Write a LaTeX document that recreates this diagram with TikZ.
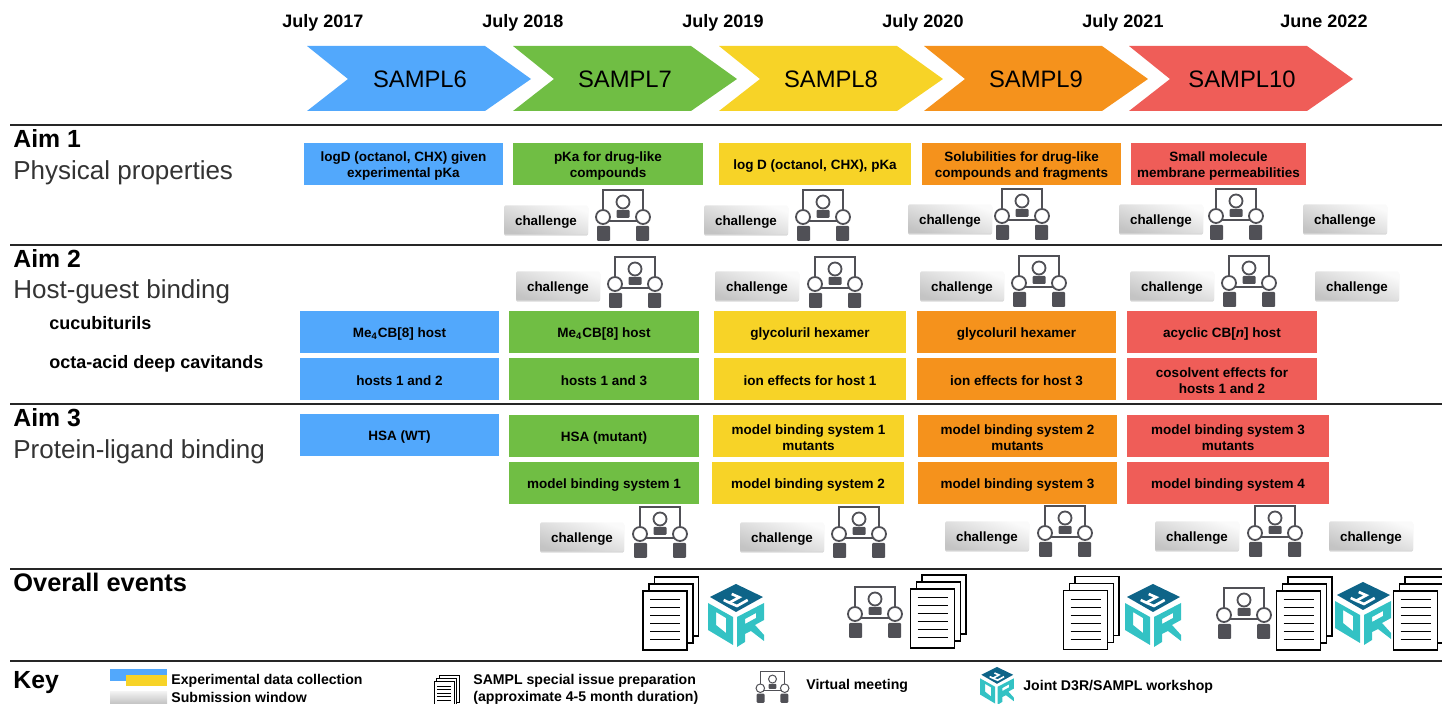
\documentclass[tikz,border=0pt]{standalone}
\usepackage{fontspec}
\setmainfont{Liberation Sans}
\usetikzlibrary{shadows}
\definecolor{sblue}{HTML}{52A8FC}
\definecolor{sgreen}{HTML}{70BE44}
\definecolor{syellow}{HTML}{F7D327}
\definecolor{sorange}{HTML}{F5921C}
\definecolor{sred}{HTML}{EF5D58}
\definecolor{icongray}{HTML}{505056}
\definecolor{d3rblue}{HTML}{0E6488}
\definecolor{d3rteal}{HTML}{33C2C4}
\tikzset{
  tbox/.style 2 args={fill=#1,minimum width=#2*0.5pt,minimum height=21pt,inner sep=0pt,align=center,font=\fontsize{6.75}{8}\selectfont\bfseries,execute at begin node={\rule{0pt}{6.8pt}}},
  twolines/.style={execute at begin node={\rule{0pt}{14.5pt}}},
  challenge/.style={minimum width=42pt,minimum height=14.5pt,inner sep=0pt,rounded corners=0.7pt,top color=gray!4,bottom color=gray!46,shading angle=-20,drop shadow={shadow xshift=0pt,shadow yshift=-0.6pt,opacity=.3},font=\fontsize{6.7}{8}\selectfont\bfseries,execute at begin node={\rule{0pt}{6.8pt}}},
  iconline/.style={line width=0.9pt},
  pageline/.style={line width=0.7pt},
  pagetext/.style={line width=0.5pt},
  logoline/.style={line width=1.3pt},
  rule/.style={line width=0.9pt,black!85},
  aim/.style={anchor=base west,inner sep=0pt,font=\fontsize{12.4}{14}\selectfont\bfseries},
  aimsub/.style={anchor=base west,inner sep=0pt,text=black!80,font=\fontsize{13}{15}\selectfont},
  host/.style={anchor=base west,inner sep=0pt,font=\fontsize{9}{11}\selectfont\bfseries},
  date/.style={anchor=base,inner sep=0pt,font=\fontsize{9}{11}\selectfont\bfseries},
  round/.style={inner sep=0pt,font=\fontsize{11.9}{14}\selectfont},
  keytext/.style={anchor=base west,inner sep=0pt,font=\fontsize{7.05}{8.5}\selectfont\bfseries},
  pics/meeting/.style={code={
    \draw[iconline,icongray] (-20,2) -- (-20,-25) -- (20,-25) -- (20,2);
    \draw[iconline,icongray] (-14,6) -- (14,6);
    \draw[iconline,icongray,fill=white] (-20,2) circle (7);
    \draw[iconline,icongray,fill=white] (20,2) circle (7);
    \draw[iconline,icongray,fill=white] (0,-13) circle (6.5);
    \fill[icongray,rounded corners=0.5pt] (-6.5,-5) rectangle (6.5,3);
    \fill[icongray,rounded corners=0.5pt] (-26,11) rectangle (-13,26);
    \fill[icongray,rounded corners=0.5pt] (13,11) rectangle (26,26);
  }},
  pics/papers/.style={code={
    \draw[pageline,fill=white] (-10.5,-43.5) rectangle (33.5,15.5);
    \draw[pageline,fill=white] (-16,-36.5) rectangle (28,22.5);
    \draw[pageline,fill=white] (-22,-29.5) rectangle (22,29.5);
    \draw[pagetext] (-15,-20.5) -- (15,-20.5);
    \draw[pagetext] (-15,-12.5) -- (15,-12.5);
    \draw[pagetext] (-15,-4.5) -- (15,-4.5);
    \draw[pagetext] (-15,3.5) -- (15,3.5);
    \draw[pagetext] (-15,11.5) -- (15,11.5);
    \draw[pagetext] (-15,19.5) -- (15,19.5);
  }},
  pics/dthreer/.style={code={
    \fill[d3rblue] (0,-30) -- (27,-17) -- (0,-2) -- (-26,-17) -- cycle;
    \draw[white,logoline] (-4.3,-20) -- (3.3,-16.7) -- (-6.7,-11.3) -- (-12.3,-14);
    \draw[white,logoline] (-6.7,-11.3) -- (1,-8) -- (11.7,-14);
    \fill[d3rteal,even odd rule] (-28,-11) -- (-3,3) -- (-3,31) -- (-28,16) -- cycle (-20,-2) -- (-10,4) -- (-10,19) -- (-20,11) -- cycle;
    \fill[d3rteal,even odd rule] (1,3) -- (28,-11) -- (28,6) -- (19,11) -- (28,21) -- (28,27) -- (15,17) -- (9,20) -- (9,28) -- (1,33) -- cycle (9,5) -- (20,-1) -- (20,4) -- (9,10) -- cycle;
  }}
}
\begin{document}
\begin{tikzpicture}[x=0.5pt,y=-0.5pt]
\clip (0,0) rectangle (1442,704);
\node[date] (d17) at (323,28) {July 2017};
\node[date] (d18) at (523,28) {July 2018};
\node[date] (d19) at (723,28) {July 2019};
\node[date] (d20) at (923,28) {July 2020};
\node[date] (d21) at (1123,28) {July 2021};
\node[date] (d22) at (1324,28) {June 2022};
\fill[sblue] (307,46) -- (485,46) -- (531,79) -- (485,111) -- (307,111) -- (348,79) -- cycle;
\fill[sgreen] (513,46) -- (691,46) -- (737,79) -- (691,111) -- (513,111) -- (554,79) -- cycle;
\fill[syellow] (719,46) -- (897,46) -- (943,79) -- (897,111) -- (719,111) -- (760,79) -- cycle;
\fill[sorange] (924,46) -- (1102,46) -- (1148,79) -- (1102,111) -- (924,111) -- (965,79) -- cycle;
\fill[sred] (1129,46) -- (1307,46) -- (1353,79) -- (1307,111) -- (1129,111) -- (1170,79) -- cycle;
\node[round] (s6) at (420,79) {SAMPL6};
\node[round] (s7) at (625,79) {SAMPL7};
\node[round] (s8) at (831,79) {SAMPL8};
\node[round] (s9) at (1036,79) {SAMPL9};
\node[round] (s10) at (1242,79) {SAMPL10};
\draw[rule] (10,125) -- (1442,125);
\draw[rule] (10,245) -- (1442,245);
\draw[rule] (10,404) -- (1442,404);
\draw[rule] (10,569) -- (1442,569);
\draw[rule] (10,661) -- (1442,661);
\node[aim] (aim1) at (13,148) {Aim 1};
\node[aimsub] (aim1sub) at (13,180) {Physical properties};
\node[aim] (aim2) at (13,268) {Aim 2};
\node[aimsub] (aim2sub) at (13,299) {Host-guest binding};
\node[host] (cucu) at (49,330) {cucubiturils};
\node[host] (octa) at (49,369) {octa-acid deep cavitands};
\node[aim] (aim3) at (13,427) {Aim 3};
\node[aimsub] (aim3sub) at (13,459) {Protein-ligand binding};
\node[aim,font=\fontsize{12.7}{14}\selectfont\bfseries] (overall) at (13,592) {Overall events};
\node[aim] (key) at (13,689) {Key};
\node[tbox={sblue}{199},twolines] (p6) at (403.5,164) {logD (octanol, CHX) given\\experimental pKa};
\node[tbox={sgreen}{190},twolines] (p7) at (608,164) {pKa for drug-like\\compounds};
\node[tbox={syellow}{192}] (p8) at (815,164) {log D (octanol, CHX), pKa};
\node[tbox={sorange}{199},twolines] (p9) at (1021.5,164) {Solubilities for drug-like\\compounds and fragments};
\node[tbox={sred}{175},twolines] (p10) at (1218.5,164) {Small molecule\\membrane permeabilities};
\node[challenge] (c1a) at (546,220) {challenge};
\node[challenge] (c1b) at (746,220) {challenge};
\node[challenge] (c1c) at (950,219) {challenge};
\node[challenge] (c1d) at (1161,219) {challenge};
\node[challenge] (c1e) at (1345,219) {challenge};
\pic (m1a) at (623,215) {meeting};
\pic (m1b) at (823,215) {meeting};
\pic (m1c) at (1022,214) {meeting};
\pic (m1d) at (1236,214) {meeting};
\node[challenge] (c2a) at (558,286) {challenge};
\node[challenge] (c2b) at (757,286) {challenge};
\node[challenge] (c2c) at (962,286) {challenge};
\node[challenge] (c2d) at (1172,286) {challenge};
\node[challenge] (c2e) at (1357,286) {challenge};
\pic (m2a) at (635,282) {meeting};
\pic (m2b) at (835,282) {meeting};
\pic (m2c) at (1039,281) {meeting};
\pic (m2d) at (1249,281) {meeting};
\node[tbox={sblue}{199}] (h6a) at (399.5,332) {Me\textsubscript{4}CB[8] host};
\node[tbox={sgreen}{190}] (h7a) at (604,332) {Me\textsubscript{4}CB[8] host};
\node[tbox={syellow}{192}] (h8a) at (810,332) {glycoluril hexamer};
\node[tbox={sorange}{199}] (h9a) at (1016.5,332) {glycoluril hexamer};
\node[tbox={sred}{190}] (h10a) at (1222,332) {acyclic CB[\textit{n}] host};
\node[tbox={sblue}{199}] (h6b) at (399.5,379) {hosts 1 and 2};
\node[tbox={sgreen}{190}] (h7b) at (604,379) {hosts 1 and 3};
\node[tbox={syellow}{192}] (h8b) at (810,379) {ion effects for host 1};
\node[tbox={sorange}{199}] (h9b) at (1016.5,379) {ion effects for host 3};
\node[tbox={sred}{190},twolines] (h10b) at (1222,379) {cosolvent effects for\\hosts 1 and 2};
\node[tbox={sblue}{199}] (l6a) at (399.5,435) {HSA (WT)};
\node[tbox={sgreen}{190}] (l7a) at (604,436) {HSA (mutant)};
\node[tbox={syellow}{191},twolines] (l8a) at (808.5,436) {model binding system 1\\mutants};
\node[tbox={sorange}{199},twolines] (l9a) at (1017.5,436) {model binding system 2\\mutants};
\node[tbox={sred}{202},twolines] (l10a) at (1228,436) {model binding system 3\\mutants};
\node[tbox={sgreen}{190}] (l7b) at (604,483) {model binding system 1};
\node[tbox={syellow}{192}] (l8b) at (808,483) {model binding system 2};
\node[tbox={sorange}{199}] (l9b) at (1017.5,483) {model binding system 3};
\node[tbox={sred}{202}] (l10b) at (1228,483) {model binding system 4};
\node[challenge] (c3a) at (582,537) {challenge};
\node[challenge] (c3b) at (782,537) {challenge};
\node[challenge] (c3c) at (987,536) {challenge};
\node[challenge] (c3d) at (1197,536) {challenge};
\node[challenge] (c3e) at (1371,536) {challenge};
\pic (m3a) at (660,532) {meeting};
\pic (m3b) at (859,532) {meeting};
\pic (m3c) at (1065,531) {meeting};
\pic (m3d) at (1275,531) {meeting};
\pic (e1) at (665,620.5) {papers};
\pic (e2) at (736,614) {dthreer};
\pic (e3) at (875,612) {meeting};
\pic (e4) at (932.5,618.5) {papers};
\pic (e5) at (1085.5,620) {papers};
\pic (e6) at (1153,614) {dthreer};
\pic (e7) at (1244,613) {meeting};
\pic (e8) at (1298.5,620.5) {papers};
\pic (e9) at (1363,612) {dthreer};
\pic (e10) at (1415.5,620.5) {papers};
\fill[sblue] (110,669) rectangle (167,681);
\fill[syellow] (126,675) rectangle (167,686);
\shade[top color=gray!12,bottom color=gray!48] (110,692) rectangle (167,704);
\node[keytext] (k1) at (171,685) {Experimental data collection};
\node[keytext] (k2) at (171,703) {Submission window};
\pic[scale=0.45,pageline/.style={line width=0.35pt},pagetext/.style={line width=0.25pt}] (k3) at (444,695) {papers};
\node[keytext] (k4) at (473,685) {SAMPL special issue preparation};
\node[keytext] (k5) at (473,702) {(approximate 4-5 month duration)};
\pic[scale=0.61,iconline/.style={line width=0.5pt}] (k6) at (772.5,687) {meeting};
\node[keytext] (k7) at (806,690) {Virtual meeting};
\pic[scale=0.6,logoline/.style={line width=0.8pt}] (k8) at (997,685) {dthreer};
\node[keytext] (k9) at (1023,691) {Joint D3R/SAMPL workshop};
\end{tikzpicture}
\end{document}
